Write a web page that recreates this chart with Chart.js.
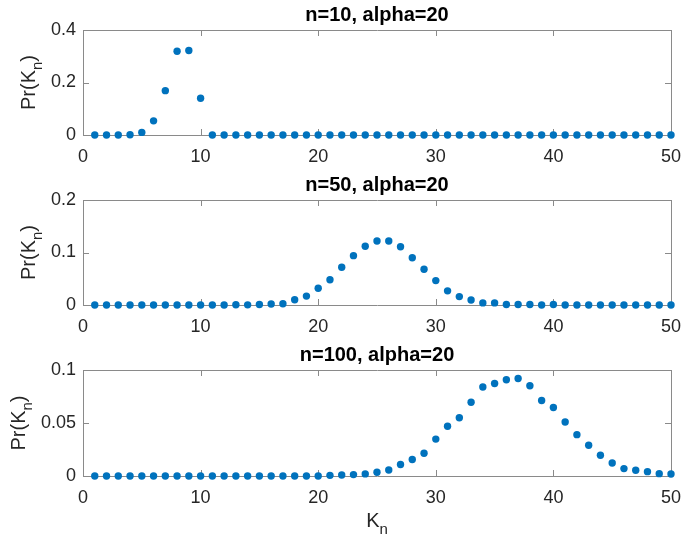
<!DOCTYPE html>
<html>
<head>
<meta charset="utf-8">
<script src="https://cdn.jsdelivr.net/npm/chart.js@4/dist/chart.umd.min.js"></script>
<style>
  html, body { margin: 0; padding: 0; background: #fff; }
  #wrap { position: relative; width: 683px; height: 537px; }
  canvas { position: absolute; left: 0; }
</style>
</head>
<body>
<div id="wrap">
  <canvas id="c1" width="683" height="170" style="top:0px"></canvas>
  <canvas id="c2" width="683" height="170" style="top:170px"></canvas>
  <canvas id="c3" width="683" height="197" style="top:340px"></canvas>
</div>
<script>
// number of clusters K_n
const kValues = [1, 2, 3, 4, 5, 6, 7, 8, 9, 10, 11, 12, 13, 14, 15, 16, 17, 18, 19, 20,
  21, 22, 23, 24, 25, 26, 27, 28, 29, 30, 31, 32, 33, 34, 35, 36, 37, 38, 39, 40,
  41, 42, 43, 44, 45, 46, 47, 48, 49, 50];

// Pr(K_n)
const prN10 = [0, 0, 0, 0.001, 0.010, 0.054, 0.169, 0.319, 0.322, 0.140,
  0, 0, 0, 0, 0, 0, 0, 0, 0, 0,
  0, 0, 0, 0, 0, 0, 0, 0, 0, 0,
  0, 0, 0, 0, 0, 0, 0, 0, 0, 0,
  0, 0, 0, 0, 0, 0, 0, 0, 0, 0];
const prN50 = [0, 0, 0, 0, 0, 0, 0, 0, 0, 0,
  0, 0, 0.0005, 0.0003, 0.001, 0.002, 0.0025, 0.010, 0.017, 0.032,
  0.048, 0.072, 0.094, 0.112, 0.122, 0.122, 0.111, 0.090, 0.068, 0.0465,
  0.027, 0.016, 0.0096, 0.004, 0.004, 0.001, 0.001, 0.001, 0, 0.001,
  0, 0, 0, 0, 0, 0, 0, 0, 0, 0];
const prN100 = [0, 0, 0, 0, 0, 0, 0, 0, 0, 0,
  0, 0, 0, 0, 0, 0, 0, 0, 0, 0,
  0.0006, 0.001, 0.0013, 0.002, 0.0035, 0.0057, 0.0108, 0.0155, 0.0215, 0.0348,
  0.047, 0.055, 0.0696, 0.0839, 0.0873, 0.0908, 0.092, 0.0851, 0.0712, 0.0646,
  0.051, 0.039, 0.029, 0.0196, 0.0123, 0.0070, 0.0054, 0.0041, 0.0022, 0.0019];

const xTicks = [0, 10, 20, 30, 40, 50];
const titles = ['n=10, alpha=20', 'n=50, alpha=20', 'n=100, alpha=20'];

const FONT = '"Liberation Sans", Arial, Helvetica, sans-serif';
const AXIS_COLOR = '#8a8a8a';
const TEXT_COLOR = '#262626';
const DOT_COLOR = '#0072BD';

// MATLAB-like box, inward ticks, title and labels
const matlabAxes = {
  id: 'matlabAxes',
  beforeDatasetsDraw(chart, args, opts) {
    const { ctx, chartArea: a, scales } = chart;
    ctx.save();
    ctx.strokeStyle = AXIS_COLOR;
    ctx.lineWidth = 1;
    ctx.beginPath();
    ctx.rect(Math.round(a.left) + 0.5, Math.round(a.top) + 0.5,
      Math.round(a.right - a.left), Math.round(a.bottom - a.top));
    const tl = 6;
    scales.x.ticks.forEach(t => {
      const px = Math.round(scales.x.getPixelForValue(t.value)) + 0.5;
      ctx.moveTo(px, a.top); ctx.lineTo(px, a.top + tl);
      ctx.moveTo(px, a.bottom); ctx.lineTo(px, a.bottom - tl);
    });
    scales.y.ticks.forEach(t => {
      const py = Math.round(scales.y.getPixelForValue(t.value)) + 0.5;
      ctx.moveTo(a.left, py); ctx.lineTo(a.left + tl, py);
      ctx.moveTo(a.right, py); ctx.lineTo(a.right - tl, py);
    });
    ctx.stroke();
    ctx.restore();
  },
  afterDraw(chart, args, opts) {
    const { ctx, chartArea: a } = chart;
    ctx.save();
    ctx.fillStyle = '#000';
    ctx.font = 'bold 20px ' + FONT;
    ctx.textAlign = 'center';
    ctx.textBaseline = 'alphabetic';
    ctx.fillText(opts.title, (a.left + a.right) / 2, a.top - 9);

    // y label Pr(K_n)
    ctx.fillStyle = TEXT_COLOR;
    ctx.textAlign = 'left';
    ctx.translate(opts.ylabelX, (a.top + a.bottom) / 2);
    ctx.rotate(-Math.PI / 2);
    ctx.font = '20px ' + FONT;
    const w1 = ctx.measureText('Pr(K').width;
    const w3 = ctx.measureText(')').width;
    ctx.font = '15px ' + FONT;
    const w2 = ctx.measureText('n').width;
    let x0 = -(w1 + w2 + w3) / 2;
    ctx.font = '20px ' + FONT;
    ctx.fillText('Pr(K', x0, 0);
    ctx.font = '15px ' + FONT;
    ctx.fillText('n', x0 + w1, 7);
    ctx.font = '20px ' + FONT;
    ctx.fillText(')', x0 + w1 + w2, 0);
    ctx.restore();

    if (opts.xlabel) {
      ctx.save();
      ctx.fillStyle = TEXT_COLOR;
      ctx.textAlign = 'left';
      ctx.font = '20px ' + FONT;
      const k = ctx.measureText('K').width;
      ctx.font = '15px ' + FONT;
      const n = ctx.measureText('n').width;
      const cx = (a.left + a.right) / 2 - (k + n) / 2;
      const by = a.bottom + 51;
      ctx.font = '20px ' + FONT;
      ctx.fillText('K', cx, by);
      ctx.font = '15px ' + FONT;
      ctx.fillText('n', cx + k, by + 7);
      ctx.restore();
    }
  }
};

function makePanel(id, values, yMax, yStep, title, ylabelX, xHeight, xlabel) {
  const pts = kValues.map((k, i) => ({ x: k, y: values[i] }));
  return new Chart(document.getElementById(id), {
    type: 'scatter',
    data: {
      datasets: [{
        data: pts,
        backgroundColor: DOT_COLOR,
        borderWidth: 0,
        pointRadius: 3.7,
        pointHoverRadius: 3.7,
        clip: false
      }]
    },
    options: {
      responsive: false,
      animation: false,
      events: [],
      layout: { padding: { top: 30, right: 12, left: 0, bottom: 0 } },
      plugins: {
        legend: { display: false },
        tooltip: { enabled: false },
        matlabAxes: { title: title, ylabelX: ylabelX, xlabel: xlabel }
      },
      scales: {
        x: {
          type: 'linear',
          min: 0, max: 50,
          afterBuildTicks: s => { s.ticks = xTicks.map(v => ({ value: v })); },
          afterFit: s => { s.height = xHeight; s.paddingLeft = 0; s.paddingRight = 0; },
          grid: { display: false, drawTicks: false },
          border: { display: false },
          ticks: {
            color: TEXT_COLOR, padding: 11,
            font: { family: FONT, size: 18 },
            maxRotation: 0
          }
        },
        y: {
          type: 'linear',
          min: 0, max: yMax,
          afterFit: s => { s.width = 83; s.paddingTop = 0; s.paddingBottom = 0; },
          grid: { display: false, drawTicks: false },
          border: { display: false },
          ticks: {
            stepSize: yStep,
            color: TEXT_COLOR, padding: 7,
            font: { family: FONT, size: 18 },
            callback: v => String(Number(v.toFixed(3)))
          }
        }
      }
    },
    plugins: [matlabAxes]
  });
}

makePanel('c1', prN10, 0.4, 0.2, titles[0], 35, 35, false);
makePanel('c2', prN50, 0.2, 0.1, titles[1], 35, 35, false);
makePanel('c3', prN100, 0.1, 0.05, titles[2], 24.5, 61, true);
</script>
</body>
</html>
